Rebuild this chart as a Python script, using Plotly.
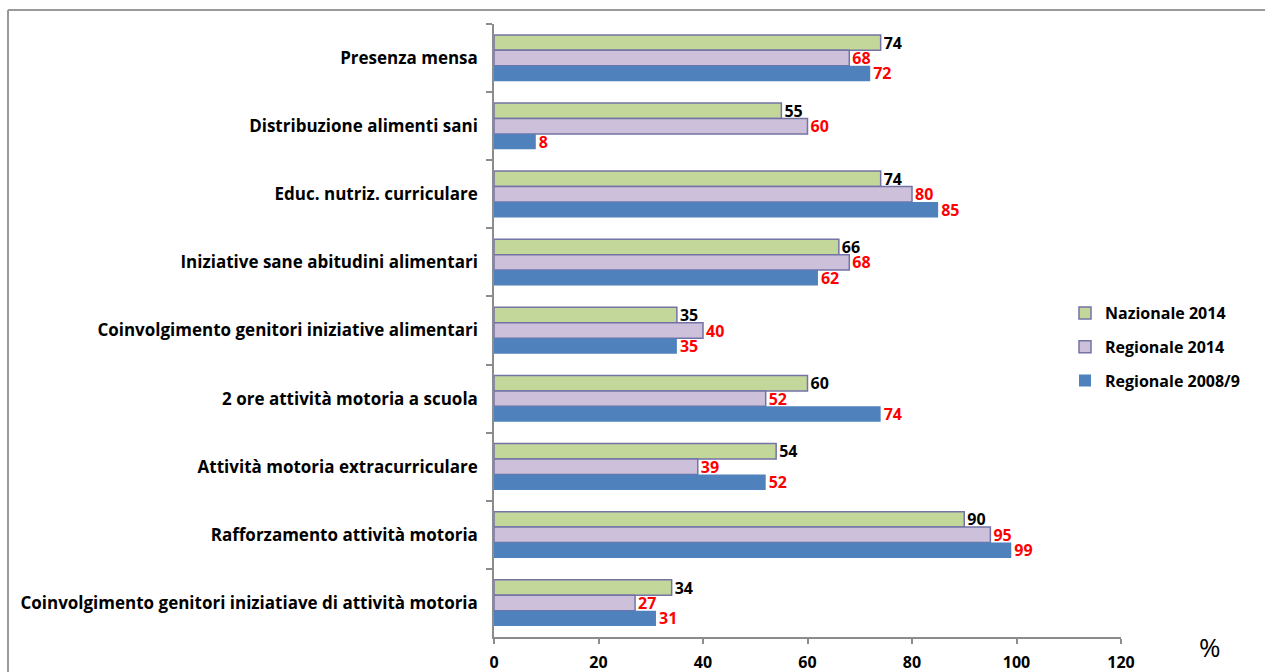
import plotly.graph_objects as go

categories = [
    "Presenza mensa",
    "Distribuzione alimenti sani",
    "Educ. nutriz. curriculare",
    "Iniziative sane abitudini alimentari",
    "Coinvolgimento genitori iniziative alimentari",
    "2 ore attività motoria a scuola",
    "Attività motoria extracurriculare",
    "Rafforzamento attività motoria",
    "Coinvolgimento genitori iniziatiave di attività motoria",
]
nazionale_2014 = [74, 55, 74, 66, 35, 60, 54, 90, 34]
regionale_2014 = [68, 60, 80, 68, 40, 52, 39, 95, 27]
regionale_2008 = [72, 8, 85, 62, 35, 74, 52, 99, 31]

series_names = ["Nazionale 2014", "Regionale 2014", "Regionale 2008/9"]
series_values = [nazionale_2014, regionale_2014, regionale_2008]
colors = ["#C4D79B", "#CCC0DA", "#4F81BD"]
line_colors = ["#7373A6", "#7373A6", "#4F81BD"]
line_widths = [1.5, 1.5, 0]
label_colors = ["#000000", "#FF0000", "#FF0000"]

FONT = "'Open Sans', Arial, sans-serif"

fig = go.Figure()
for i, (name, vals) in enumerate(zip(series_names, series_values)):
    fig.add_trace(go.Bar(
        y=categories, x=vals, orientation="h", name=name,
        marker=dict(color=colors[i], line=dict(color=line_colors[i], width=line_widths[i])),
        text=[str(v) for v in vals], textposition="outside", constraintext="none",
        textfont=dict(color=label_colors[i], size=16, family=FONT, weight="bold"),
        cliponaxis=False, legendgroup=name,
    ))

W, H = 1265, 672
ML, MR, MT, MB = 494, 144, 24, 35
pw, ph = W - ML - MR, H - MT - MB


def px_x(x):
    return (x - ML) / pw


def px_y(y):
    return (H - MB - y) / ph


fig.update_layout(
    width=W, height=H,
    margin=dict(l=ML, r=MR, t=MT, b=MB, pad=0, autoexpand=False),
    paper_bgcolor="white", plot_bgcolor="white",
    barmode="group", bargap=0.32, bargroupgap=0,
    font=dict(family=FONT, size=15, color="black"),
    showlegend=True,
    legend=dict(
        x=px_x(1065), y=px_y(296), xanchor="left", yanchor="top",
        traceorder="grouped", tracegroupgap=10,
        font=dict(size=16, family=FONT, weight="bold"),
        bgcolor="rgba(0,0,0,0)",
    ),
    xaxis=dict(
        range=[0, 120], dtick=20, showgrid=False, zeroline=False, automargin=False,
        showline=True, linecolor="#8C8C8C", linewidth=1.5,
        ticks="outside", ticklen=5, tickcolor="#8C8C8C", tickwidth=1.5,
        ticklabelstandoff=5,
        tickfont=dict(size=16, family=FONT, weight="bold"),
    ),
    yaxis=dict(
        autorange="reversed", showgrid=False, zeroline=False, automargin=False,
        showline=True, linecolor="#8C8C8C", linewidth=1.5,
        ticks="outside", ticklen=6, tickcolor="#8C8C8C", tickwidth=1.5,
        tickson="boundaries", ticklabelstandoff=11,
        tickfont=dict(size=17, family=FONT, weight="bold"),
    ),
    annotations=[dict(
        text="%", xref="paper", yref="paper",
        x=px_x(1210), y=px_y(647), xanchor="center", yanchor="middle",
        showarrow=False, font=dict(size=26, family=FONT, color="black"),
    )],
    shapes=[
        dict(type="line", xref="paper", yref="paper",
             x0=px_x(8), x1=px_x(W), y0=px_y(10), y1=px_y(10),
             line=dict(color="#9A9A9A", width=2), layer="below"),
        dict(type="line", xref="paper", yref="paper",
             x0=px_x(8), x1=px_x(8), y0=px_y(10), y1=px_y(H),
             line=dict(color="#9A9A9A", width=2), layer="below"),
    ],
)

fig.write_html(
    "out.html",
    config={"displayModeBar": False},
    post_script="document.body.style.margin='0';document.body.style.overflow='hidden';",
)
